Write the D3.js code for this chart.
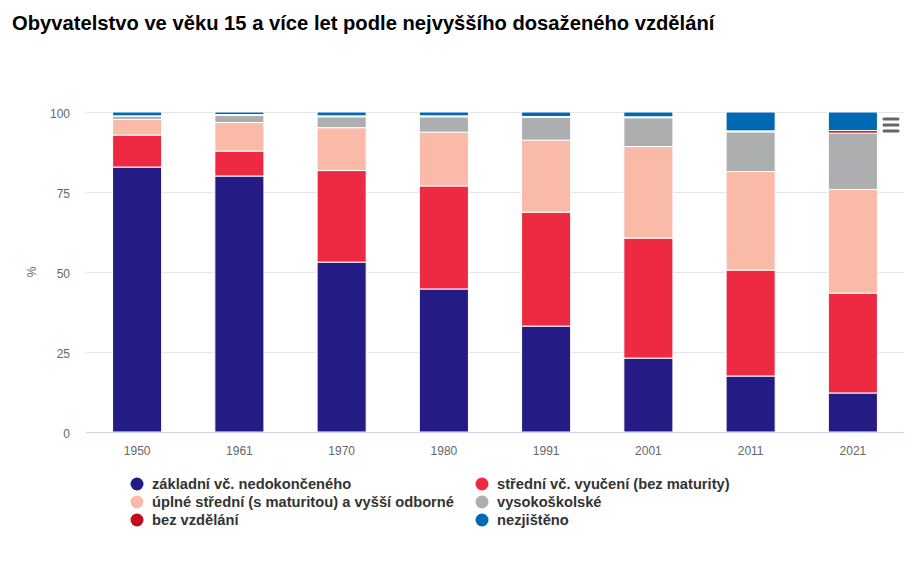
<!DOCTYPE html>
<html><head><meta charset="utf-8">
<script src="https://cdn.jsdelivr.net/npm/d3@7"></script>
<style>
body{margin:0;background:#fff;}
svg{display:block;font-family:"Liberation Sans",Arial,sans-serif;}
</style></head>
<body>
<svg id="chart" width="921" height="567"></svg>
<script>
const years = ["1950","1961","1970","1980","1991","2001","2011","2021"];
const seriesNames = ["základní vč. nedokončeného","střední vč. vyučení (bez maturity)","úplné střední (s maturitou) a vyšší odborné","vysokoškolské","bez vzdělání","nezjištěno"];
const seriesColors = ["#241c84","#ee2a43","#f9bba7","#adaeb0","#c00d1e","#0069b4"];
const zakladni   = [82.8, 80.0, 53.1, 44.7, 33.1, 23.1, 17.5, 12.2];
const vyuceni    = [10.0,  7.8, 28.6, 32.2, 35.6, 37.5, 33.1, 31.2];
const uplne      = [ 4.9,  8.9, 13.4, 16.8, 22.5, 28.6, 30.8, 32.4];
const vysoko     = [ 0.9,  2.2,  3.4,  4.8,  7.1,  9.0, 12.4, 17.6];
const bez        = [ 0.2,  0.3,  0.3,  0.3,  0.3,  0.3,  0.3,  0.8];
const nezjisteno = [ 1.2,  0.8,  1.2,  1.2,  1.4,  1.5,  5.9,  5.8];
const yTicks = [0,25,50,75,100];
const title = "Obyvatelstvo ve věku 15 a více let podle nejvyššího dosaženého vzdělání";

const svg = d3.select("#chart");
const L = 86, R = 904, T = 112, B = 432;
const allSeries = [zakladni, vyuceni, uplne, vysoko, bez, nezjisteno];
const rows = years.map((y,i)=>{const o={year:y}; allSeries.forEach((s,k)=>o["s"+k]=s[i]); return o;});
const stack = d3.stack().keys(seriesNames.map((_,k)=>"s"+k))(rows);

const x = d3.scaleBand().domain(years).range([L,R]).paddingInner(0.52).paddingOuter(0.26);
const y = d3.scaleLinear().domain([0,100]).range([B,T]);

svg.append("text").attr("x",12).attr("y",30).attr("font-size",20.2).attr("font-weight","bold").attr("fill","#000").text(title);

// grid
svg.append("g").selectAll("line").data(yTicks.filter(d=>d>0)).join("line")
  .attr("x1",L).attr("x2",R).attr("y1",d=>y(d)+0.5).attr("y2",d=>y(d)+0.5)
  .attr("stroke","#e6e6e6").attr("stroke-width",1);

// y axis labels
const yAxis = d3.axisLeft(y).tickValues(yTicks).tickSize(0).tickPadding(0);
const ga = svg.append("g").attr("transform",`translate(${L-16},2)`).call(yAxis);
ga.select(".domain").remove();
ga.selectAll("text").attr("font-size",12).attr("fill","#666").attr("font-family","Liberation Sans, Arial, sans-serif").attr("dy","0.32em");

svg.append("text").attr("transform",`translate(36,${(T+B)/2}) rotate(-90)`).attr("text-anchor","middle")
  .attr("font-size",12).attr("fill","#666").text("%");

// bars
svg.append("g").selectAll("g").data(stack).join("g")
  .attr("fill",(d,i)=>seriesColors[i])
  .selectAll("rect").data(d=>d).join("rect")
  .attr("x",d=>x(d.data.year)).attr("width",x.bandwidth())
  .attr("y",d=>y(d[1])).attr("height",d=>Math.max(0,y(d[0])-y(d[1])))
  .attr("stroke","#fff").attr("stroke-width",1);

// x axis
const xAxis = d3.axisBottom(x).tickSize(0).tickPadding(14);
const gx = svg.append("g").attr("transform",`translate(0,${B})`).call(xAxis);
gx.select(".domain").remove();
gx.selectAll("text").attr("font-size",12).attr("fill","#666").attr("font-family","Liberation Sans, Arial, sans-serif");
svg.append("line").attr("x1",L).attr("x2",R).attr("y1",B+0.5).attr("y2",B+0.5).attr("stroke","#ccd6eb").attr("stroke-width",1);

// legend
const lg = svg.append("g");
seriesNames.forEach((n,i)=>{
  const col = i%2, row = Math.floor(i/2);
  const cx = col===0 ? 137 : 482;
  const cy = 484 + row*18;
  lg.append("circle").attr("cx",cx).attr("cy",cy).attr("r",6.5).attr("fill",seriesColors[i]);
  lg.append("text").attr("x",cx+15).attr("y",cy+5).attr("font-size",14.7).attr("font-weight","bold").attr("fill","#333").text(n);
});

// menu icon
const mg = svg.append("g").attr("stroke","#666").attr("stroke-width",3).attr("stroke-linecap","round");
[119,125,131].forEach(v=>mg.append("line").attr("x1",884).attr("x2",898).attr("y1",v).attr("y2",v));
</script>
</body></html>
